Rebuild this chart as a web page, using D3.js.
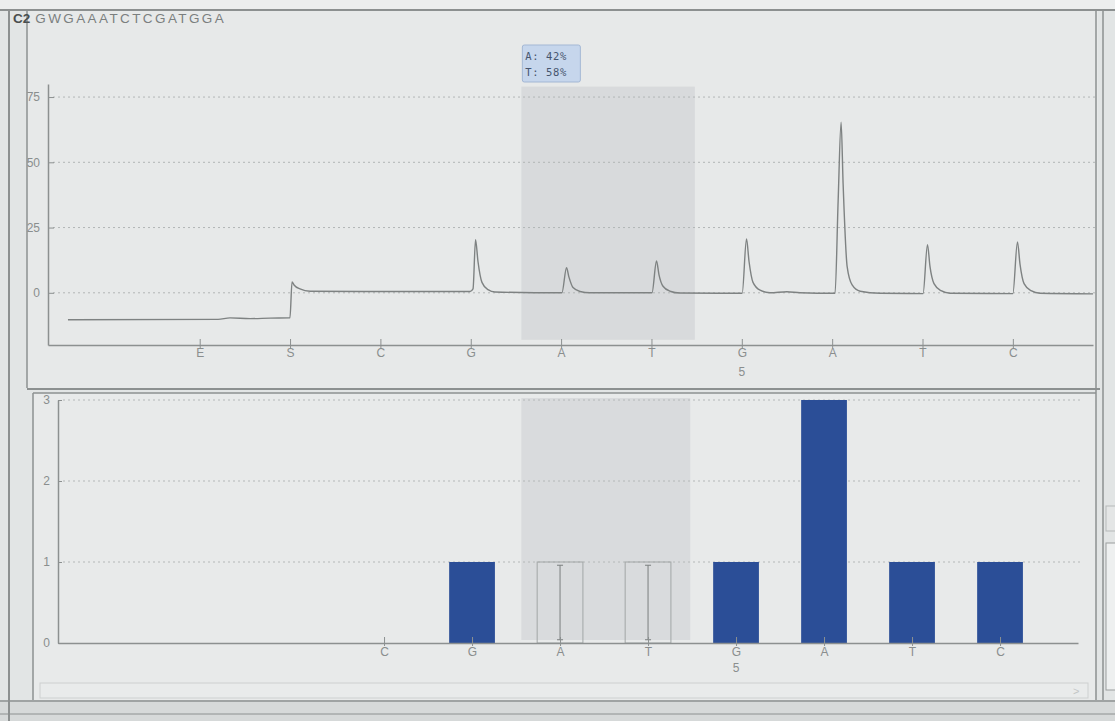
<!DOCTYPE html>
<html>
<head>
<meta charset="utf-8">
<script src="https://cdn.jsdelivr.net/npm/d3@7/dist/d3.min.js"></script>
<style>
    html, body { margin: 0; padding: 0; background: #e2e5e5; }
    svg { display: block; font-family: "Liberation Sans", Arial, sans-serif; }
</style>
</head>
<body>
<div id="chart"></div>
<script>
//Datos del pirograma
const wellName = 'C2';
const sequenceToAnalyze = 'GWGAAATCTCGATGGA';
const dispensations = ['E', 'S', 'C', 'G', 'A', 'T', 'G', 'A', 'T', 'C'];
const positionLabels = ['', '', '', '', '', '', '5', '', '', ''];
const traceTicks = [0, 25, 50, 75];
const histTicks = [0, 1, 2, 3];

//Traza (posición en dispensaciones, intensidad)
const tracePos = [-1.458, 0.203, 0.335, 0.557, 0.778, 0.999, 1.022, 1.044, 1.110, 1.221, 2.217, 2.992,
    3.025, 3.053, 3.080, 3.124, 3.191, 3.268, 4.009, 4.060, 4.087, 4.132, 4.209, 4.320,
    5.006, 5.056, 5.083, 5.128, 5.205, 5.316, 6.004, 6.052, 6.080, 6.124, 6.202, 6.312, 6.500, 6.644,
    7.032, 7.066, 7.099, 7.121, 7.166, 7.221, 7.310, 7.531,
    8.006, 8.055, 8.083, 8.127, 8.205, 8.304, 9.000, 9.051, 9.079, 9.124, 9.201, 9.301, 9.887];
const traceVal = [-10.3, -10.2, -9.6, -9.9, -9.7, -9.6, 4.2, 3.0, 1.5, 0.6, 0.5, 0.5,
    1.5, 20.3, 12, 4, 1.2, 0.3, 0.0, 9.6, 6, 2, 0.5, 0,
    0, 12.2, 7, 2.5, 0.6, -0.1, -0.2, 20.6, 12, 4, 1, 0, 0.4, 0,
    -0.2, 35, 65.4, 42, 10, 3, 0.6, -0.2,
    -0.3, 18.4, 10, 3.5, 0.8, -0.2, -0.3, 19.5, 11, 3.5, 0.8, -0.2, -0.4];

//Histograma (null = posición variable)
const histValues = [null, null, 0, 1, null, null, 1, 3, 1, 1];
const variableIdx = [4, 5];
const variableExpected = 1;
const variableRange = [3.56, 5.48];
const alleles = ['A', 'T'];
const alleleShares = [42, 58];

const GRAY_LINE = '#8c9090';
const GRAY_TEXT = '#8a8e8e';
const BAR_BLUE = '#2b4e97';

let svg = d3.select('#chart').append('svg')
    .attr('width', 1115)
    .attr('height', 721);

//////
// MARCO DE LA VENTANA
//////
svg.append('rect').attr('width', 1115).attr('height', 721).attr('fill', '#e2e5e5');
svg.append('rect').attr('width', 1115).attr('height', 10).attr('fill', '#eceeee');
svg.append('rect').attr('x', 27).attr('y', 11).attr('width', 1071).attr('height', 377).attr('fill', '#e7e9e9');
svg.append('rect').attr('x', 33).attr('y', 393).attr('width', 1063).attr('height', 307).attr('fill', '#e8eaea');
svg.append('rect').attr('x', 0).attr('y', 700).attr('width', 1115).attr('height', 21).attr('fill', '#d6d9d9');

let frame = [
    [0, 10, 1115, 10, 2], [9, 10, 9, 721, 2], [27, 11, 27, 388, 1.5], [27, 389, 1100, 389, 2],
    [33, 393, 33, 700, 1.5], [33, 393, 1096, 393, 1.5], [1096, 10, 1096, 700, 1.5], [1103, 10, 1103, 700, 1.5],
    [0, 701, 1115, 701, 1.5], [0, 714, 1115, 714, 1]
];
svg.append('g').selectAll('line').data(frame).enter().append('line')
    .attr('x1', d => d[0]).attr('y1', d => d[1]).attr('x2', d => d[2]).attr('y2', d => d[3])
    .attr('stroke', GRAY_LINE).attr('stroke-width', d => d[4]);

//Scroll inferior y widget lateral
svg.append('rect').attr('x', 40).attr('y', 683).attr('width', 1048).attr('height', 15)
    .attr('fill', '#e9ebeb').attr('stroke', '#cdd0d0');
svg.append('text').attr('x', 1073).attr('y', 695).attr('font-size', 11).attr('fill', '#c2c5c5').text('>');
svg.append('rect').attr('x', 1106).attr('y', 543).attr('width', 12).attr('height', 147)
    .attr('fill', '#eef0f0').attr('stroke', '#9a9e9e');
svg.append('rect').attr('x', 1106).attr('y', 506).attr('width', 12).attr('height', 25)
    .attr('fill', '#e4e6e6').attr('stroke', '#b5b9b9');

//Título
let title = svg.append('text').attr('x', 13).attr('y', 23).attr('font-size', 13.5);
title.append('tspan').attr('font-weight', 'bold').attr('fill', '#4a4e4e').text(wellName);
title.append('tspan').attr('dx', 5).attr('fill', '#7b7f7f').attr('letter-spacing', 2.4).text(sequenceToAnalyze);

//////
// PIROGRAMA (traza)
//////
let xTop = d3.scaleLinear().domain([-1.679, 9.887]).range([48, 1093]);
let yTop = d3.scaleLinear().domain([-20, 80]).range([345, 84]);

svg.append('rect')
    .attr('x', xTop(variableRange[0])).attr('y', yTop(79))
    .attr('width', xTop(variableRange[1]) - xTop(variableRange[0]))
    .attr('height', yTop(-18) - yTop(79))
    .attr('fill', '#d8dadc');

svg.append('g').selectAll('line').data(traceTicks).enter().append('line')
    .attr('x1', 53).attr('x2', 1095)
    .attr('y1', d => yTop(d)).attr('y2', d => yTop(d))
    .attr('stroke', '#b2b6b6').attr('stroke-dasharray', '2,3');

let line = d3.line()
    .x((d, i) => xTop(tracePos[i]))
    .y(d => yTop(d))
    .curve(d3.curveMonotoneX);

svg.append('path')
    .datum(traceVal)
    .attr('d', line)
    .attr('fill', 'none')
    .attr('stroke', '#7e8282')
    .attr('stroke-width', 1.4);

let yAxisTop = svg.append('g')
    .attr('transform', 'translate(48,0)')
    .call(d3.axisLeft(yTop).tickValues(traceTicks).tickSizeInner(5).tickSizeOuter(0).tickPadding(3));

let xAxisTop = svg.append('g')
    .attr('transform', 'translate(0,345)')
    .call(d3.axisBottom(xTop).tickValues(d3.range(dispensations.length)).tickFormat(i => dispensations[i])
        .tickSizeInner(3).tickSizeOuter(0).tickPadding(0));

xAxisTop.selectAll('.tick line').attr('y1', -6);
yAxisTop.selectAll('.tick line').attr('x2', 6);

svg.append('g').selectAll('text').data(positionLabels).enter().append('text')
    .attr('x', (d, i) => xTop(i)).attr('y', 376)
    .attr('text-anchor', 'middle').attr('font-size', 12).attr('fill', GRAY_TEXT)
    .text(d => d);

//Cuadro de porcentajes
let boxX = xTop(variableRange[0]) + 1;
svg.append('rect').attr('x', boxX).attr('y', 45).attr('width', 58).attr('height', 37).attr('rx', 2)
    .attr('fill', '#c6d6ec').attr('stroke', '#a3b7d4');
svg.append('g').selectAll('text').data(alleles).enter().append('text')
    .attr('x', boxX + 3).attr('y', (d, i) => 60 + i * 16)
    .attr('font-family', '"DejaVu Sans Mono", monospace').attr('font-size', 10.5)
    .attr('letter-spacing', 0.6).attr('fill', '#46556e')
    .text((d, i) => d + ':  ' + alleleShares[i] + '%');

//////
// HISTOGRAMA
//////
let xBot = d3.scaleLinear().domain([-1.705, 9.886]).range([58, 1078]);
let yBot = d3.scaleLinear().domain([0, 3]).range([643, 400]);
let step = xBot(1) - xBot(0);
let barW = step * 0.52;

svg.append('rect')
    .attr('x', xBot(variableRange[0])).attr('y', yBot(3) - 2)
    .attr('width', xBot(variableRange[1]) - xBot(variableRange[0]))
    .attr('height', yBot(0) - yBot(3) - 1)
    .attr('fill', '#d9dbdd');

svg.append('g').selectAll('line').data(histTicks.slice(1)).enter().append('line')
    .attr('x1', 63).attr('x2', 1080)
    .attr('y1', d => yBot(d)).attr('y2', d => yBot(d))
    .attr('stroke', '#b4b8b8').attr('stroke-dasharray', '2,3');

let histData = histValues.map((v, i) => ({idx: i, value: v})).filter(d => d.value);

svg.append('g').selectAll('rect').data(histData).enter().append('rect')
    .attr('x', d => xBot(d.idx) - barW / 2)
    .attr('y', d => yBot(d.value))
    .attr('width', barW)
    .attr('height', d => yBot(0) - yBot(d.value))
    .attr('fill', BAR_BLUE);

//Posiciones variables
let varG = svg.append('g').selectAll('g').data(variableIdx).enter().append('g');
varG.append('rect')
    .attr('x', d => xBot(d) - barW / 2).attr('y', yBot(variableExpected))
    .attr('width', barW).attr('height', yBot(0) - yBot(variableExpected))
    .attr('fill', 'none').attr('stroke', '#a2a6a6');
varG.append('line')
    .attr('x1', d => xBot(d)).attr('x2', d => xBot(d))
    .attr('y1', yBot(variableExpected * 0.96)).attr('y2', yBot(0.04))
    .attr('stroke', '#7a7e7e');
[0.96, 0.04].forEach(function(v) {
    varG.append('line')
        .attr('x1', d => xBot(d) - 3).attr('x2', d => xBot(d) + 3)
        .attr('y1', yBot(variableExpected * v)).attr('y2', yBot(variableExpected * v))
        .attr('stroke', '#7a7e7e');
});

let yAxisBot = svg.append('g')
    .attr('transform', 'translate(58,0)')
    .call(d3.axisLeft(yBot).tickValues(histTicks).tickFormat(d3.format('d'))
        .tickSizeInner(5).tickSizeOuter(0).tickPadding(3));
yAxisBot.selectAll('.tick line').attr('x2', 4);

let xAxisBot = svg.append('g')
    .attr('transform', 'translate(0,643)')
    .call(d3.axisBottom(xBot).tickValues(d3.range(2, dispensations.length)).tickFormat(i => dispensations[i])
        .tickSizeInner(3).tickSizeOuter(0).tickPadding(1));
xAxisBot.selectAll('.tick line').attr('y1', -6);

svg.append('g').selectAll('text').data(positionLabels).enter().append('text')
    .attr('x', (d, i) => xBot(i)).attr('y', 672)
    .attr('text-anchor', 'middle').attr('font-size', 12).attr('fill', GRAY_TEXT)
    .text(d => d);

//Estilo común de ejes
svg.selectAll('.domain').attr('stroke', GRAY_LINE).attr('stroke-width', 1.5);
svg.selectAll('.tick line').attr('stroke', GRAY_LINE);
svg.selectAll('.tick text')
    .attr('font-family', '"Liberation Sans", Arial, sans-serif')
    .attr('font-size', 12)
    .attr('fill', GRAY_TEXT);
</script>
</body>
</html>
